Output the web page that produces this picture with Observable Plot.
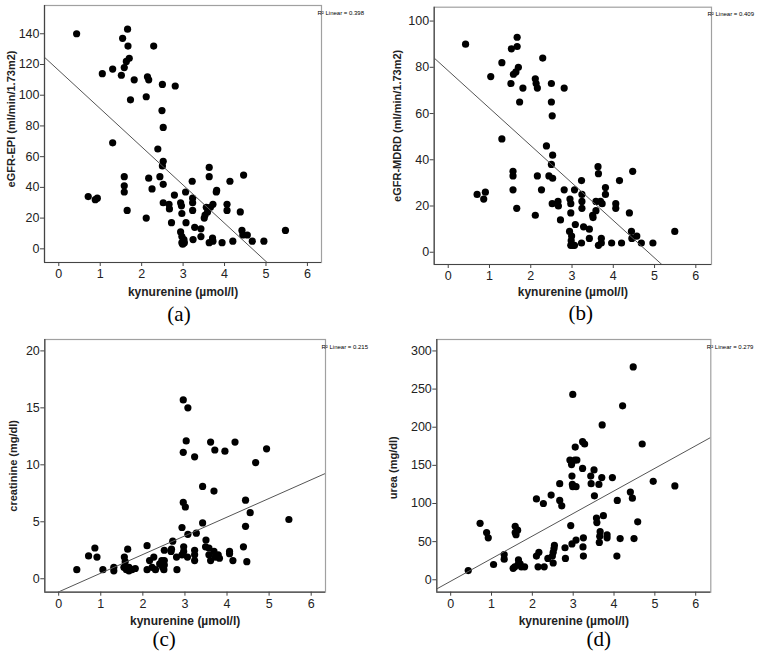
<!DOCTYPE html>
<html><head><meta charset="utf-8">
<script src="https://cdn.jsdelivr.net/npm/d3@7"></script>
<script src="https://cdn.jsdelivr.net/npm/@observablehq/plot@0.6"></script>
<style>
body{margin:0;background:#fff;}
#wrap{position:relative;width:764px;height:661px;overflow:hidden;background:#fff;}
#wrap svg{position:absolute;}
</style></head><body><div id="wrap"></div>
<script>
// ---- data ----
const xTicks = [0,1,2,3,4,5,6];
const xLabel = "kynurenine (µmol/l)";

const kynA = [0.43,0.71,0.88,0.93,1.05,1.30,1.30,1.51,1.54,1.58,
1.58,1.58,1.58,1.65,1.66,1.67,1.63,1.70,1.73,1.82,
2.11,2.11,2.14,2.17,2.17,2.25,2.29,2.39,2.44,2.50,
2.49,2.52,2.52,2.50,2.52,2.52,2.66,2.67,2.72,2.79,
2.81,2.94,2.94,2.96,2.97,2.97,2.97,2.99,3.03,3.06,
3.07,3.02,3.22,3.23,3.23,3.23,3.24,3.28,3.43,3.43,
3.51,3.53,3.56,3.59,3.63,3.63,3.63,3.66,3.71,3.72,
3.72,3.81,3.80,3.94,4.06,4.06,4.13,4.20,4.38,4.42,
4.44,4.46,4.55,4.67,4.95,5.47];
const egfrEpi = [140,34,32,33,114,117,69,113,137,118,
47,41,37,25,143,132,122,124,97,110,
99,20,112,110,46,39,132,65,47,107,
90,79,57,54,42,30,29,26,17,35,
106,11,30,28,23,8,4,3,4,37,
17,6,44,33,30,25,6,14,8,13,
20,22,27,24,53,47,4,27,7,5,
29,38,37,4,29,25,44,5,24,12,
9,48,9,5,5,12];
const ticksA = [0,20,40,60,80,100,120,140];

const kynB = [0.42,0.70,0.86,0.90,1.03,1.30,1.30,1.52,1.53,1.57,
1.57,1.57,1.58,1.64,1.67,1.67,1.70,1.66,1.73,1.81,
2.11,2.13,2.16,2.11,2.16,2.26,2.29,2.38,2.44,2.50,
2.50,2.52,2.53,2.50,2.53,2.52,2.66,2.67,2.72,2.81,
2.81,2.95,2.97,2.97,2.94,2.99,2.98,2.97,3.02,3.06,
3.08,3.06,3.23,3.24,3.24,3.24,3.23,3.28,3.42,3.42,
3.50,3.51,3.58,3.58,3.63,3.64,3.64,3.69,3.73,3.71,
3.71,3.81,3.81,3.96,4.06,4.06,4.15,4.20,4.39,4.44,
4.45,4.47,4.57,4.68,4.96,5.49];
const egfrMdrd = [90,25,23,26,76,82,49,73,88,35,
33,27,77,78,93,89,80,19,65,71,
75,73,71,16,33,27,84,46,33,73,
65,59,42,38,32,21,22,20,14,71,
27,23,21,17,9,7,5,3,3,3,
12,27,31,25,22,19,4,11,10,6,
16,15,22,18,37,34,3,22,21,6,
4,28,25,4,21,19,31,4,17,9,
6,35,7,4,4,9];
const ticksB = [0,20,40,60,80,100];

const kynC = [0.43,0.71,0.86,0.91,1.05,1.31,1.31,1.56,1.58,1.55,
1.61,1.64,1.67,1.67,1.74,1.82,2.10,2.10,2.16,2.22,
2.26,2.30,2.40,2.45,2.47,2.50,2.51,2.51,2.51,2.67,
2.68,2.71,2.80,2.81,2.93,2.96,2.96,2.96,2.97,2.97,
2.93,3.01,3.03,3.07,3.06,3.07,3.23,3.23,3.23,3.23,
3.27,3.42,3.42,3.50,3.49,3.57,3.61,3.57,3.61,3.71,
3.69,3.69,3.72,3.79,3.82,3.95,4.06,4.06,4.14,4.19,
4.39,4.44,4.44,4.47,4.55,4.68,4.94,5.47];
const creatinine = [0.8,2.0,2.7,1.9,0.8,1.0,0.7,1.9,1.5,1.0,
0.8,2.6,1.0,0.7,0.8,0.9,2.9,0.8,1.6,1.0,
1.9,0.8,1.3,1.6,1.0,0.8,1.6,1.2,2.5,2.4,
2.6,3.3,1.9,0.8,4.5,6.7,15.7,11.1,2.8,2.4,
2.1,6.3,12.1,15.0,1.9,3.9,2.5,2.1,1.6,10.7,
4.0,8.1,4.9,3.4,2.8,2.7,12.0,2.1,1.6,11.3,
7.7,2.4,1.9,2.1,1.8,11.2,2.4,2.2,1.6,12.0,
2.8,6.9,4.6,1.5,5.8,10.2,11.4,5.2];
const ticksC = [0,5,10,15,20];

const kynD = [0.43,0.72,0.88,0.92,1.05,1.31,1.31,1.53,1.58,1.58,
1.60,1.64,1.66,1.65,1.57,1.70,1.73,1.81,2.10,2.10,
2.16,2.14,2.27,2.29,2.38,2.46,2.49,2.51,2.53,2.54,
2.51,2.67,2.67,2.72,2.80,2.81,2.92,2.96,2.97,2.98,
2.99,2.94,2.97,2.99,3.04,3.07,3.09,3.05,3.07,3.23,
3.28,3.23,3.25,3.24,3.25,3.43,3.44,3.51,3.52,3.57,
3.58,3.63,3.66,3.65,3.64,3.70,3.71,3.74,3.83,3.83,
3.96,4.08,4.07,4.15,4.21,4.40,4.45,4.47,4.49,4.58,
4.69,4.96,5.49];
const urea = [12,74,62,55,20,33,27,15,62,70,
59,65,26,20,17,21,17,17,106,31,
36,17,100,17,28,111,31,36,41,45,
22,126,104,97,42,28,157,151,136,125,
122,71,47,243,157,122,157,174,52,181,
178,146,55,43,31,136,126,144,110,81,
75,125,63,57,49,134,203,84,59,55,
134,104,31,54,228,115,107,279,54,76,
178,129,123];
const ticksD = [0,50,100,150,200,250,300];

// linear fit lines (intercept, slope) and R² as printed
const fitIntercepts = [116.1, 78.5, -1.15, -1.9];
const fitSlopes = [-24.86, -16.19, 1.64, 29.6];
const r2Values = ["0.398", "0.409", "0.215", "0.279"];
const captions = ["(a)", "(b)", "(c)", "(d)"];
const yLabels = ["eGFR-EPI (ml/min/1.73m2)", "eGFR-MDRD (ml/min/1.73m2)", "creatinine (mg/dl)", "urea (mg/dl)"];

// ---- layout ----
const panels = [
  {xs: kynA, ys: egfrEpi, yTicks: ticksA, left: 0, top: 0, w: 382, h: 330,
   m: [5, 61, 68, 44], xDomain: [-0.345, 6.34], yDomain: [-8.9, 158.4],
   ylDx: -33, ylDy: -15, xlDy: 33, capDx: -4, capDy: 58},
  {xs: kynB, ys: egfrMdrd, yTicks: ticksB, left: 382, top: 0, w: 382, h: 330,
   m: [6.7, 53, 66, 51.7], xDomain: [-0.34, 6.38], yDomain: [-5.3, 106],
   ylDx: -37, ylDy: -10, xlDy: 31, capDx: 8, capDy: 55},
  {xs: kynC, ys: creatinine, yTicks: ticksC, left: 0, top: 330, w: 382, h: 331,
   m: [9, 57, 69.3, 44.3], xDomain: [-0.33, 6.34], yDomain: [-1.18, 21.0],
   ylDx: -31, ylDy: 0, xlDy: 33, capDx: -21, capDy: 54},
  {xs: kynD, ys: urea, yTicks: ticksD, left: 382, top: 330, w: 382, h: 331,
   m: [9, 53.7, 69.3, 54.3], xDomain: [-0.34, 6.37], yDomain: [-16.3, 315],
   ylDx: -43, ylDy: 2, xlDy: 33, capDx: 25, capDy: 54}
];

const sans = "'Liberation Sans', Arial, Helvetica, sans-serif";
const serif = "'Liberation Serif', 'Times New Roman', serif";
const wrap = document.getElementById("wrap");

panels.forEach((p, i) => {
  const pts = d3.zip(p.xs, p.ys).map(([x, y]) => ({x, y}));
  const fit = p.xDomain.map(x => ({x, y: fitIntercepts[i] + fitSlopes[i] * x}));
  const svg = Plot.plot({
    width: p.w, height: p.h,
    marginTop: p.m[0], marginRight: p.m[1], marginBottom: p.m[2], marginLeft: p.m[3],
    x: {domain: p.xDomain}, y: {domain: p.yDomain},
    style: {fontFamily: sans, fontSize: "12px", background: "white", color: "#222", overflow: "visible"},
    marks: [
      Plot.dot(pts, {x: "x", y: "y", r: 3.6, fill: "#000", stroke: "none"}),
      Plot.line(fit, {x: "x", y: "y", stroke: "#555", strokeWidth: 1, clip: true}),
      Plot.frame({stroke: "#a0a0a0", strokeWidth: 1.2}),
      Plot.ruleX([p.xDomain[0]], {stroke: "#444", strokeWidth: 1.2}),
      Plot.ruleY([p.yDomain[0]], {stroke: "#444", strokeWidth: 1.2}),
      Plot.axisX({ticks: xTicks, tickFormat: d3.format("d"), tickSize: 4, tickPadding: 3, label: null, stroke: "#444", fill: "#222", fontSize: 12.5}),
      Plot.axisY({ticks: p.yTicks, tickFormat: d3.format("d"), tickSize: 4, tickPadding: 1, label: null, stroke: "#444", fill: "#222", fontSize: 12.5}),
      Plot.text([yLabels[i]], {frameAnchor: "left", textAnchor: "middle", dx: p.ylDx, dy: p.ylDy, rotate: -90, fontWeight: "bold", fontSize: 11, fill: "#222"}),
      Plot.text([xLabel], {frameAnchor: "bottom", textAnchor: "middle", dy: p.xlDy, fontWeight: "bold", fontSize: 12, fill: "#222"}),
      Plot.text([`R² Linear = ${r2Values[i]}`], {frameAnchor: "top-right", dx: -4, dy: 5, textAnchor: "start", fontSize: 6, fill: "#000"}),
      Plot.text([captions[i]], {frameAnchor: "bottom", textAnchor: "middle", dx: p.capDx, dy: p.capDy, fontFamily: serif, fontSize: 21, fill: "#000"})
    ]
  });
  svg.style.left = p.left + "px";
  svg.style.top = p.top + "px";
  wrap.appendChild(svg);
});
</script>
</body></html>
